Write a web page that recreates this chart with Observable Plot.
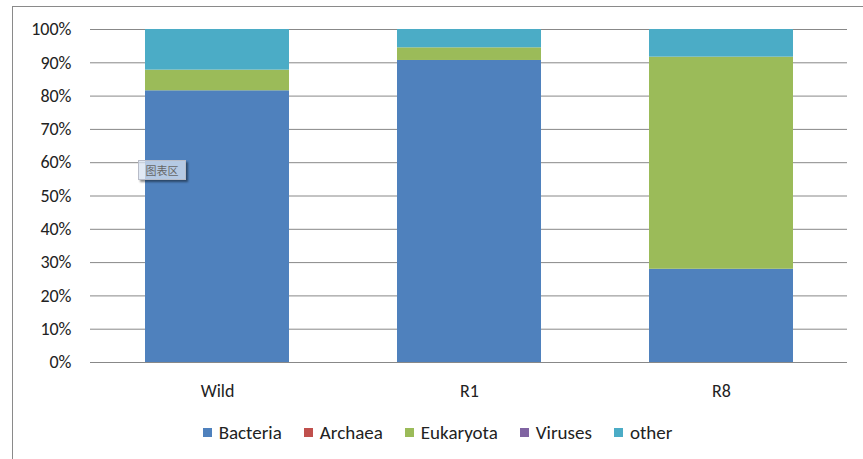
<!DOCTYPE html>
<html>
<head>
<meta charset="utf-8">
<script src="https://cdn.jsdelivr.net/npm/d3@7"></script>
<script src="https://cdn.jsdelivr.net/npm/@observablehq/plot@0.6"></script>
<style>
  html, body { margin: 0; padding: 0; background: #fff; width: 863px; height: 459px; overflow: hidden; position: relative; font-family: Calibri, Carlito, Lato, "Noto Sans", sans-serif; }
  #frame { position: absolute; left: 12px; top: 6px; width: 900px; height: 500px; border: 1.5px solid #8a8a8a; box-sizing: border-box; }
  #chart { position: absolute; left: 0; top: 0; }
  #chart svg text { font-size: 18px; fill: #222; }
  #legend { position: absolute; left: 6px; width: 863px; top: 421px; display: flex; justify-content: center; gap: 22px; font-size: 19px; color: #222; }
  #legend .item { display: flex; align-items: center; gap: 7px; }
  #legend .sw { width: 9px; height: 9px; display: inline-block; }
  #tip { position: absolute; left: 138px; top: 160px; width: 46px; height: 18px; background: rgba(215,225,240,0.75); border: 1px solid #b8bcc8; box-shadow: 2px 2px 2px rgba(0,0,0,0.45); font: 11px "Noto Sans CJK SC", sans-serif; color: #666; text-align: center; line-height: 18px; }
</style>
</head>
<body>
<div id="frame"></div>
<div id="chart"></div>
<div id="legend"></div>
<div id="tip">图表区</div>
<script>
const categories = ["Wild", "R1", "R8"];
const seriesNames = ["Bacteria", "Archaea", "Eukaryota", "Viruses", "other"];
const seriesColors = ["#4F81BD", "#C0504D", "#9BBB59", "#8064A2", "#4BACC6"];
const bacteria = [81.6, 90.7, 28.0];
const archaea = [0, 0, 0];
const eukaryota = [6.2, 3.8, 63.7];
const viruses = [0, 0, 0];
const other = [12.2, 5.5, 8.3];
const yTicks = [0, 10, 20, 30, 40, 50, 60, 70, 80, 90, 100];

const seriesValues = [bacteria, archaea, eukaryota, viruses, other];
const rows = [];
seriesNames.forEach((s, si) => {
  categories.forEach((c, ci) => rows.push({category: c, series: s, value: seriesValues[si][ci]}));
});

const chart = Plot.plot({
  width: 863,
  height: 410,
  marginLeft: 90,
  marginRight: 16,
  marginTop: 29,
  marginBottom: 48,
  style: {fontFamily: "Calibri, Carlito, Lato, 'Noto Sans', sans-serif", fontSize: "18px", color: "#222", background: "transparent"},
  x: {domain: categories, paddingInner: 0.43, paddingOuter: 0.215, label: null},
  y: {domain: [0, 100], label: null},
  color: {domain: seriesNames, range: seriesColors},
  marks: [
    Plot.gridY(yTicks, {stroke: "#888", strokeOpacity: 1, strokeWidth: 1}),
    Plot.barY(rows, Plot.stackY({x: "category", y: "value", fill: "series", order: seriesNames})),
    Plot.axisX({tickSize: 0, tickPadding: 22}),
    Plot.axisY({ticks: yTicks, tickFormat: d => d + "%", tickSize: 0, tickPadding: 19})
  ]
});
document.getElementById("chart").appendChild(chart);

const legend = document.getElementById("legend");
seriesNames.forEach((s, i) => {
  const item = document.createElement("div");
  item.className = "item";
  const sw = document.createElement("span");
  sw.className = "sw";
  sw.style.background = seriesColors[i];
  const t = document.createElement("span");
  t.textContent = s;
  item.appendChild(sw);
  item.appendChild(t);
  legend.appendChild(item);
});
</script>
</body>
</html>
